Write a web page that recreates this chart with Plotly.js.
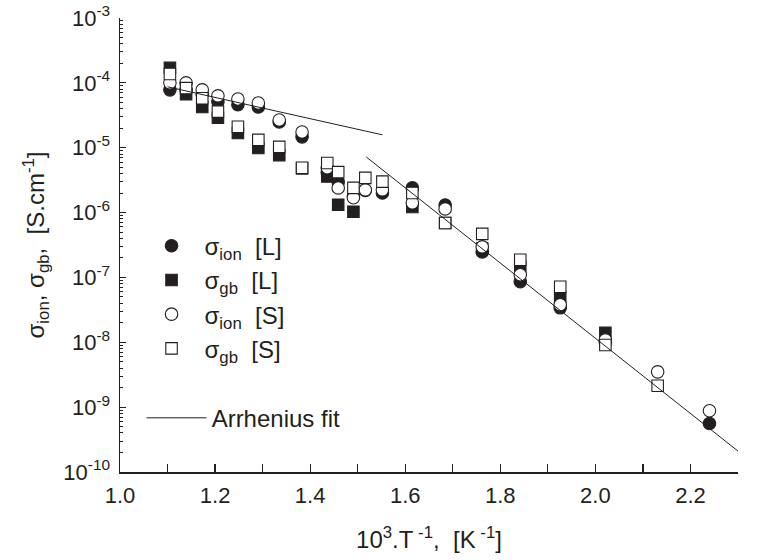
<!DOCTYPE html>
<html>
<head>
<meta charset="utf-8">
<script src="https://cdn.plot.ly/plotly-3.0.1.min.js"></script>
<style>html,body{margin:0;padding:0;background:#fff;}#chart{width:758px;height:560px;}</style>
</head>
<body>
<div id="chart"></div>
<script>
// Data (x = 10^3/T, y = conductivity S/cm)
var ionL_x = [1.105, 1.139, 1.173, 1.206, 1.248, 1.291, 1.335, 1.383, 1.436, 1.459, 1.491, 1.516, 1.552, 1.615, 1.684, 1.762, 1.842, 1.926, 2.021, 2.240];
var ionL_y = [7.8e-5, 7.8e-5, 6.7e-5, 5.1e-5, 4.6e-5, 4.25e-5, 2.5e-5, 1.47e-5, 4.2e-6, 2.97e-6, 1.8e-6, 2.2e-6, 2.0e-6, 2.4e-6, 1.31e-6, 2.48e-7, 8.6e-8, 3.4e-8, 1.0e-8, 5.6e-10];

var gbL_x = [1.105, 1.139, 1.173, 1.206, 1.248, 1.291, 1.335, 1.383, 1.436, 1.459, 1.491, 1.615, 1.684, 1.762, 1.842, 1.926, 2.021];
var gbL_y = [1.70e-4, 6.7e-5, 4.25e-5, 2.9e-5, 1.69e-5, 9.9e-6, 7.7e-6, 4.8e-6, 3.6e-6, 1.32e-6, 1.03e-6, 1.22e-6, 6.9e-7, 2.8e-7, 1.46e-7, 5.0e-8, 1.4e-8];

var ionS_x = [1.105, 1.139, 1.173, 1.206, 1.248, 1.291, 1.335, 1.383, 1.436, 1.459, 1.491, 1.516, 1.552, 1.615, 1.684, 1.762, 1.842, 1.926, 2.021, 2.131, 2.240];
var ionS_y = [1.0e-4, 1.0e-4, 7.8e-5, 6.3e-5, 5.65e-5, 4.9e-5, 2.68e-5, 1.75e-5, 4.9e-6, 2.4e-6, 1.69e-6, 2.24e-6, 2.24e-6, 1.41e-6, 1.14e-6, 2.96e-7, 1.1e-7, 3.8e-8, 1.09e-8, 3.5e-9, 8.8e-10];

var gbS_x = [1.105, 1.139, 1.173, 1.206, 1.248, 1.291, 1.335, 1.383, 1.436, 1.459, 1.491, 1.516, 1.552, 1.615, 1.684, 1.762, 1.842, 1.926, 2.021, 2.131];
var gbS_y = [1.37e-4, 8.3e-5, 5.8e-5, 3.6e-5, 2.1e-5, 1.32e-5, 1.03e-5, 4.9e-6, 5.8e-6, 4.2e-6, 2.4e-6, 3.43e-6, 3.0e-6, 2.0e-6, 6.9e-7, 4.7e-7, 1.87e-7, 7.2e-8, 9.1e-9, 2.14e-9];

var fit1_x = [1.10, 1.552];
var fit1_y = [8.7e-5, 1.58e-5];
var fit2_x = [1.518, 2.30];
var fit2_y = [7.2e-6, 2.1e-10];

var yTickVals = [1e-3, 1e-4, 1e-5, 1e-6, 1e-7, 1e-8, 1e-9, 1e-10];
var yTickText = ['10<sup>-3</sup>', '10<sup>-4</sup>', '10<sup>-5</sup>', '10<sup>-6</sup>', '10<sup>-7</sup>', '10<sup>-8</sup>', '10<sup>-9</sup>', '10<sup>-10</sup>'];

var INK = '#231f20';
var FONT = 'Liberation Sans, Arial, sans-serif';

function mk(x, y, name, symbol, fill) {
  return {
    x: x, y: y, name: name, type: 'scatter', mode: 'markers', cliponaxis: false,
    marker: {symbol: symbol, size: symbol === 'square' ? 11.5 : 12.5, color: fill, line: {color: INK, width: 1.1}}
  };
}

var traces = [
  mk(ionL_x, ionL_y, '\u03c3<sub>ion</sub>  [L]', 'circle', INK),
  mk(gbL_x, gbL_y, '\u03c3<sub>gb</sub>  [L]', 'square', INK),
  mk(ionS_x, ionS_y, '\u03c3<sub>ion</sub>  [S]', 'circle', '#ffffff'),
  mk(gbS_x, gbS_y, '\u03c3<sub>gb</sub>  [S]', 'square', '#ffffff'),
  {x: fit1_x, y: fit1_y, name: 'Arrhenius fit', type: 'scatter', mode: 'lines', legend: 'legend2',
   line: {color: INK, width: 1}},
  {x: fit2_x, y: fit2_y, name: 'Arrhenius fit', type: 'scatter', mode: 'lines', showlegend: false,
   line: {color: INK, width: 1}}
];

var layout = {
  width: 758, height: 560,
  margin: {l: 120, r: 20, t: 18, b: 88},
  paper_bgcolor: '#fff', plot_bgcolor: '#fff',
  font: {family: FONT, color: INK, size: 22},
  showlegend: true,
  legend: {x: 0.03, y: 0.547, xanchor: 'left', yanchor: 'top', bgcolor: 'rgba(0,0,0,0)',
           font: {size: 24, family: FONT, color: INK}, itemwidth: 56, traceorder: 'grouped', tracegroupgap: 5},
  legend2: {x: 0.035, y: 0.168, xanchor: 'left', yanchor: 'top', bgcolor: 'rgba(0,0,0,0)',
           font: {size: 24, family: FONT, color: INK}, itemwidth: 60},
  xaxis: {
    range: [1.0, 2.3], dtick: 0.2, tick0: 1.0, tickformat: '.1f',
    ticks: 'inside', ticklen: 8, tickwidth: 1.2, tickcolor: INK,
    minor: {dtick: 0.1, ticks: 'inside', ticklen: 8, tickwidth: 1.2, tickcolor: INK, showgrid: false},
    showline: true, linecolor: INK, linewidth: 1.5, mirror: false,
    showgrid: false, zeroline: false,
    tickfont: {size: 22, family: FONT, color: INK},
    ticklabelstandoff: 3,
    title: {text: '10<sup>3</sup>.T<sup> -1</sup>,  [K<sup> -1</sup>]', font: {size: 24, family: FONT, color: INK}, standoff: 24}
  },
  yaxis: {
    type: 'log', range: [-10, -3],
    tickmode: 'array', tickvals: yTickVals, ticktext: yTickText,
    ticks: 'inside', ticklen: 6, tickwidth: 1.2, tickcolor: INK,
    minor: {dtick: 'D1', ticks: 'inside', ticklen: 3, tickwidth: 1, tickcolor: INK, showgrid: false},
    showline: true, linecolor: INK, linewidth: 1.5, mirror: false,
    showgrid: false, zeroline: false,
    tickfont: {size: 22, family: FONT, color: INK},
    ticklabelstandoff: 4,
    title: {text: '\u03c3<sub>ion</sub>, \u03c3<sub>gb</sub>,  [S.cm<sup>-1</sup>]', font: {size: 24, family: FONT, color: INK}, standoff: 12}
  }
};

Plotly.newPlot('chart', traces, layout, {staticPlot: true, displayModeBar: false});
</script>
</body>
</html>
